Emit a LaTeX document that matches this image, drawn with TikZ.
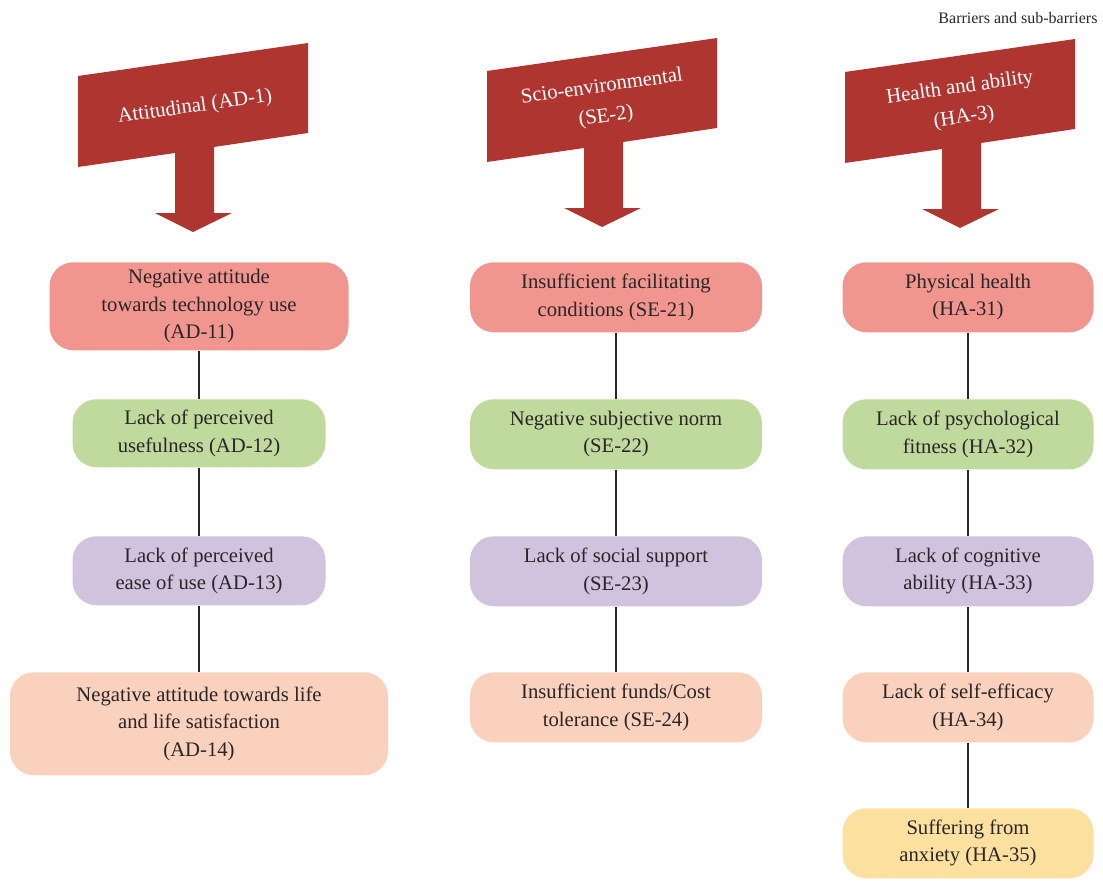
\documentclass[tikz,border=0pt]{standalone}
\usepackage{fontspec}
\setmainfont{Liberation Serif}
\usetikzlibrary{positioning}

\definecolor{headred}{HTML}{AF3630}
\definecolor{subred}{HTML}{F0968F}
\definecolor{subgreen}{HTML}{C0D99D}
\definecolor{sublilac}{HTML}{D1C2DE}
\definecolor{subpeach}{HTML}{F9D1BC}
\definecolor{subyellow}{HTML}{FCE0A0}
\definecolor{subtext}{HTML}{2A2526}

\begin{document}
\begin{tikzpicture}[x=0.75pt,y=-0.75pt]
    \tikzstyle{sub}=[rectangle, rounded corners=18pt, align=center,
    inner sep=2pt, text=subtext, anchor=north,
    font=\fontsize{15.5}{20.5}\selectfont]
    \tikzstyle{head}=[align=center, text=white, rotate=8,
    font=\fontsize{15.5}{22.5}\selectfont]
    \tikzstyle{link}=[black!85, line width=0.8pt]
    \useasboundingbox (0,0) rectangle (1103,881);

    % title
    \node[font=\fontsize{12}{14}\selectfont, text=subtext] (title) at (1018,18) {Barriers and sub-barriers};

    % header arrows
    \foreach \hx/\hy/\hname/\htext in {78/76/ad1/{Attitudinal (AD-1)},
        487/71/se2/{Scio-environmental\\(SE-2)},
        845/72/ha3/{Health and ability\\(HA-3)}} {
        \begin{scope}[shift={(\hx,\hy)}]
            \fill[headred] (0,0) -- (230,-33) -- (230,57) -- (136,71)
            -- (136,137) -- (154,137) -- (115,156) -- (77,137)
            -- (97,137) -- (97,77) -- (0,91) -- cycle;
            \node[head] (\hname) at (117,31) {\htext};
        \end{scope}
    }

    % attitudinal
    \node[sub, fill=subred, minimum width=224.25pt, minimum height=66pt] (ad11) at (199,262) {Negative attitude\\towards technology use\\(AD-11)};
    \node[sub, fill=subgreen, minimum width=189.75pt, minimum height=51pt] (ad12) at (199,399) {Lack of perceived\\usefulness (AD-12)};
    \node[sub, fill=sublilac, minimum width=189.75pt, minimum height=51.75pt] (ad13) at (199,536) {Lack of perceived\\ease of use (AD-13)};
    \node[sub, fill=subpeach, minimum width=283.5pt, minimum height=77.25pt] (ad14) at (199,672) {Negative attitude towards life\\and life satisfaction\\(AD-14)};

    % scio-environmental
    \node[sub, fill=subred, minimum width=219pt, minimum height=52.5pt] (se21) at (616,262) {Insufficient facilitating\\conditions (SE-21)};
    \node[sub, fill=subgreen, minimum width=219pt, minimum height=52.5pt] (se22) at (616,399) {Negative subjective norm\\(SE-22)};
    \node[sub, fill=sublilac, minimum width=219pt, minimum height=52.5pt] (se23) at (616,536) {Lack of social support\\(SE-23)};
    \node[sub, fill=subpeach, minimum width=219pt, minimum height=52.5pt] (se24) at (616,672) {Insufficient funds/Cost\\tolerance (SE-24)};

    % health and ability
    \node[sub, fill=subred, minimum width=188.25pt, minimum height=52.5pt] (ha31) at (968,262) {Physical health\\(HA-31)};
    \node[sub, fill=subgreen, minimum width=188.25pt, minimum height=52.5pt] (ha32) at (968,399) {Lack of psychological\\fitness (HA-32)};
    \node[sub, fill=sublilac, minimum width=188.25pt, minimum height=52.5pt] (ha33) at (968,536) {Lack of cognitive\\ability (HA-33)};
    \node[sub, fill=subpeach, minimum width=188.25pt, minimum height=52.5pt] (ha34) at (968,672) {Lack of self-efficacy\\(HA-34)};
    \node[sub, fill=subyellow, minimum width=188.25pt, minimum height=52.5pt] (ha35) at (968,808) {Suffering from\\anxiety (HA-35)};

    \draw[link] (ad11) -- (ad12) (ad12) -- (ad13) (ad13) -- (ad14);
    \draw[link] (se21) -- (se22) (se22) -- (se23) (se23) -- (se24);
    \draw[link] (ha31) -- (ha32) (ha32) -- (ha33) (ha33) -- (ha34) (ha34) -- (ha35);
\end{tikzpicture}
\end{document}
